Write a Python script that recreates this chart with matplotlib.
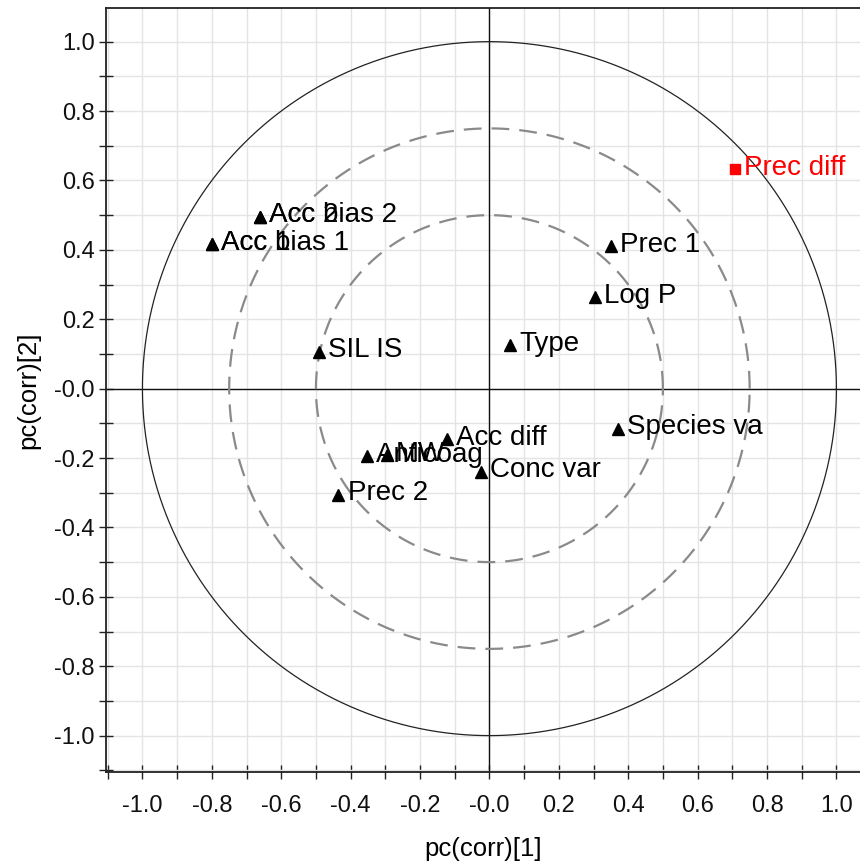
import numpy as np
import matplotlib
matplotlib.use("Agg")
import matplotlib.pyplot as plt
from matplotlib.ticker import MultipleLocator, FuncFormatter

plt.rcParams['font.family'] = ['Liberation Sans', 'DejaVu Sans']

# Loadings of each variable on components 1 and 2 (correlation scaled)
labels = ["Acc bias 2", "Acc 2", "Acc bias 1", "Acc 1", "SIL IS", "Type",
          "Prec 1", "Log P", "Species va", "Acc diff", "Conc var",
          "Anticoag", "MW", "Prec 2"]
pc1 = [-0.661, -0.661, -0.800, -0.800, -0.490, 0.060,
       0.351, 0.305, 0.370, -0.123, -0.025,
       -0.354, -0.296, -0.435]
pc2 = [0.496, 0.496, 0.416, 0.416, 0.107, 0.126,
       0.411, 0.264, -0.116, -0.146, -0.239,
       -0.194, -0.191, -0.306]

# Highlighted response variable
resp_label = "Prec diff"
resp_pc1 = 0.708
resp_pc2 = 0.633

fig = plt.figure(figsize=(8.6, 8.63), dpi=100)
ax = fig.add_axes([106 / 860, 1 - 771.7 / 863, 1 - 106 / 860, (771.7 - 8) / 863])

ax.set_xlim(-1.105, 1.068)
ax.set_ylim(-1.104, 1.097)

# grid every 0.1
ax.xaxis.set_major_locator(MultipleLocator(0.2))
ax.xaxis.set_minor_locator(MultipleLocator(0.1))
ax.yaxis.set_major_locator(MultipleLocator(0.2))
ax.yaxis.set_minor_locator(MultipleLocator(0.1))
ax.grid(True, which='both', color='#e4e4e4', lw=1.0, zorder=0)
ax.set_axisbelow(True)


def fmt(v, pos):
    if abs(v) < 1e-9:
        return "-0.0"
    return f"{v:.1f}"


ax.xaxis.set_major_formatter(FuncFormatter(fmt))
ax.yaxis.set_major_formatter(FuncFormatter(fmt))

ax.tick_params(which='both', direction='inout', length=10, width=1.0,
               color='#222222', labelsize=17, labelcolor='#111111')
ax.tick_params(axis='x', pad=12)
ax.tick_params(axis='y', pad=3)

for side in ['left', 'bottom', 'top']:
    ax.spines[side].set_color('#222222')
    ax.spines[side].set_linewidth(1.3)
ax.spines['right'].set_visible(False)

# origin cross-hair
ax.axhline(0, color='#111111', lw=1.0, zorder=1)
ax.axvline(0, color='#111111', lw=1.0, zorder=1)

# correlation circles
t = np.linspace(0, 2 * np.pi, 720)
ax.plot(np.cos(t), np.sin(t), color='#222222', lw=0.9, zorder=2)
for r in (0.75, 0.5):
    ax.plot(r * np.cos(t), r * np.sin(t), color='#8a8a8a', lw=1.6,
            linestyle=(0, (8, 4.5)), zorder=2)

# variables
ax.plot(pc1, pc2, linestyle='none', marker='^', ms=8, color='black', zorder=3)
for lab, x, y in zip(labels, pc1, pc2):
    ax.annotate(lab, (x, y), xytext=(6.5, 1), textcoords='offset points',
                fontsize=20, va='center', ha='left', color='black', zorder=4)

ax.plot([resp_pc1], [resp_pc2], linestyle='none', marker='s', ms=7,
        color='#ff0000', zorder=3)
ax.annotate(resp_label, (resp_pc1, resp_pc2), xytext=(6.5, 1),
            textcoords='offset points', fontsize=20, va='center', ha='left',
            color='#ff0000', zorder=4)

ax.set_xlabel("pc(corr)[1]", fontsize=18.5, labelpad=14)
ax.set_ylabel("pc(corr)[2]", fontsize=18.5, labelpad=10)

fig.savefig("out.png", dpi=100)
